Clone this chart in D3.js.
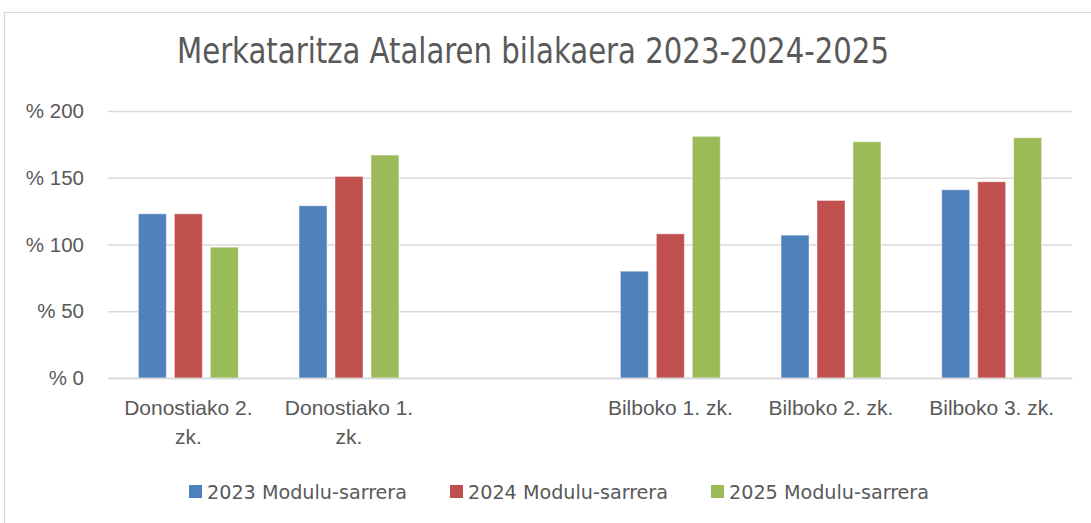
<!DOCTYPE html>
<html>
<head>
<meta charset="utf-8">
<script src="https://cdn.jsdelivr.net/npm/d3@7"></script>
<style>
  body { margin: 0; background: #fff; }
  svg { display: block; }
</style>
</head>
<body>
<div id="chart"></div>
<script>
// data
var categories = ["Donostiako 2. zk.", "Donostiako 1. zk.", "", "Bilboko 1. zk.", "Bilboko 2. zk.", "Bilboko 3. zk."];
var series = ["2023 Modulu-sarrera", "2024 Modulu-sarrera", "2025 Modulu-sarrera"];
var values2023 = [123, 129, null, 80, 107, 141];
var values2024 = [123, 151, null, 108, 133, 147];
var values2025 = [98, 167, null, 181, 177, 180];
var yTicks = [0, 50, 100, 150, 200];
var colors = ["#4f81bd", "#c0504d", "#9bbb59"];

var W = 1091, H = 523;
var margin = {top: 111, right: 19, bottom: 145, left: 108},
    width = W - margin.left - margin.right,
    height = H - margin.top - margin.bottom;

var svg = d3.select("#chart")
  .append("svg")
    .attr("width", W)
    .attr("height", H);

// chart area border
svg.append("rect")
    .attr("x", 4.5).attr("y", 12.5)
    .attr("width", W + 20).attr("height", H + 20)
    .attr("fill", "none")
    .attr("stroke", "#d9d9d9")
    .attr("stroke-width", 1.2);

svg.append("text")
    .attr("x", 533).attr("y", 63)
    .attr("text-anchor", "middle")
    .attr("textLength", 712)
    .attr("lengthAdjust", "spacingAndGlyphs")
    .style("font-family", "'Liberation Sans Narrow', 'DejaVu Sans Condensed', 'Roboto', sans-serif")
    .style("font-size", "35px")
    .attr("fill", "#595959")
    .text("Merkataritza Atalaren bilakaera 2023-2024-2025");

var g = svg.append("g")
    .attr("transform", "translate(" + margin.left + "," + margin.top + ")");

var y = d3.scaleLinear()
    .domain([0, 200])
    .range([height, 0]);

var x0 = d3.scaleBand()
    .domain(d3.range(categories.length))
    .range([0, width]);

var groupW = x0.bandwidth() * 0.622;
var x1 = d3.scaleBand()
    .domain(series)
    .range([(x0.bandwidth() - groupW) / 2, (x0.bandwidth() + groupW) / 2])
    .paddingInner(0.222);

// gridlines + y labels
g.append("g")
    .call(d3.axisLeft(y).tickValues(yTicks).tickSize(-width).tickPadding(24).tickFormat(d => "% " + d))
    .call(g => g.select(".domain").remove())
    .call(g => g.selectAll(".tick line").attr("stroke", "#d9d9d9").attr("stroke-width", 1.4))
    .call(g => g.selectAll(".tick text")
        .attr("fill", "#595959")
        .style("font-family", "'Liberation Sans', Arial, sans-serif")
        .style("font-size", "20.5px"));

var allValues = [values2023, values2024, values2025];

var groups = g.selectAll(".cat")
  .data(d3.range(categories.length))
  .enter().append("g")
    .attr("class", "cat")
    .attr("transform", i => "translate(" + x0(i) + ",0)");

groups.selectAll("rect")
  .data(i => series.map((s, k) => ({s: s, k: k, v: allValues[k][i]})).filter(d => d.v != null))
  .enter().append("rect")
    .attr("x", d => x1(d.s))
    .attr("y", d => y(d.v))
    .attr("width", x1.bandwidth())
    .attr("height", d => y(0) - y(d.v))
    .attr("fill", d => colors[d.k])
    .attr("stroke", "#ffffff")
    .attr("stroke-opacity", 0.45)
    .attr("stroke-width", 1);

// x axis
var xAxis = g.append("g")
    .attr("transform", "translate(0," + height + ")")
    .call(d3.axisBottom(x0).tickSize(0).tickFormat(i => categories[i]))
    .call(g => g.select(".domain").attr("stroke", "#d9d9d9").attr("stroke-width", 1.4));

xAxis.selectAll(".tick text")
    .attr("fill", "#595959")
    .style("font-family", "'Liberation Sans', Arial, sans-serif")
    .style("font-size", "21px")
    .each(function() { wrap(d3.select(this), x0.bandwidth() - 12); });

function wrap(text, maxW) {
  var words = text.text().split(/\s+/).reverse(),
      line = [], lineNo = 0, word,
      tspan = text.text(null).append("tspan").attr("x", 0).attr("y", 37);
  while ((word = words.pop())) {
    line.push(word);
    tspan.text(line.join(" "));
    if (tspan.node().getComputedTextLength() > maxW && line.length > 1) {
      line.pop();
      tspan.text(line.join(" "));
      line = [word];
      lineNo++;
      tspan = text.append("tspan").attr("x", 0).attr("y", 37 + lineNo * 29).text(word);
    }
  }
  text.attr("dy", null);
}

// legend
var legend = svg.append("g")
    .attr("transform", "translate(189,492)");

var item = legend.selectAll("g")
  .data(series)
  .enter().append("g")
    .attr("transform", (d, i) => "translate(" + (i * 261) + ",0)");

item.append("rect")
    .attr("x", 0).attr("y", -7)
    .attr("width", 13).attr("height", 13)
    .attr("fill", (d, i) => colors[i]);

item.append("text")
    .attr("x", 18).attr("y", 7)
    .attr("textLength", 200)
    .attr("lengthAdjust", "spacingAndGlyphs")
    .style("font-family", "'Liberation Sans Narrow', 'DejaVu Sans Condensed', 'Roboto', sans-serif")
    .style("font-size", "20px")
    .attr("fill", "#595959")
    .text(d => d);
</script>
</body>
</html>
